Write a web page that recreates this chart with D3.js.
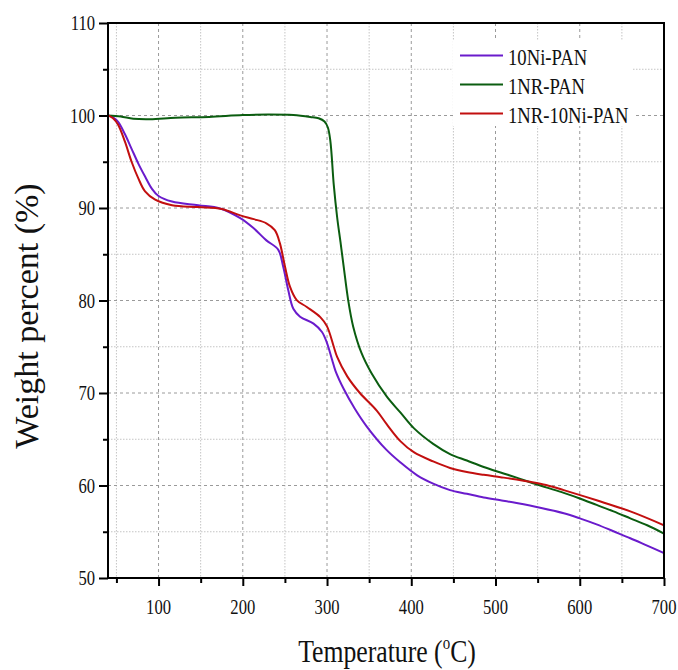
<!DOCTYPE html>
<html>
<head>
<meta charset="utf-8">
<script src="https://cdn.jsdelivr.net/npm/d3@7"></script>
<style>
  html, body { margin: 0; padding: 0; background: #fff; }
  svg { display: block; }
  text { font-family: "Liberation Serif", "Times New Roman", serif; fill: #111; }
</style>
</head>
<body>
<svg id="chart" width="678" height="670"></svg>
<script>
// ---------------- data ----------------
const seriesNames = ["10Ni-PAN", "1NR-PAN", "1NR-10Ni-PAN"];
const seriesColors = ["#6a1bcc", "#0b5d10", "#c20f0f"];

const temp10Ni = [40, 46, 52, 60, 68, 76, 84, 92, 100, 116, 147, 173, 197, 213, 228, 242, 248, 254, 260, 268, 284, 294, 300, 306, 310, 320, 333, 347, 370, 387, 407, 426, 446, 466, 486, 506, 525, 553, 581, 600, 620, 640, 660, 680, 700];
const weight10Ni = [100, 99.8, 99.3, 98.0, 96.4, 94.8, 93.4, 92.1, 91.3, 90.7, 90.3, 89.95, 88.9, 87.8, 86.5, 85.5, 83.65, 81.1, 79.1, 78.25, 77.5, 76.6, 75.4, 73.6, 72.4, 70.4, 68.3, 66.4, 63.9, 62.5, 61.1, 60.2, 59.5, 59.1, 58.7, 58.4, 58.1, 57.6, 57.0, 56.45, 55.8, 55.05, 54.3, 53.5, 52.7];

const tempNR = [40, 55, 70, 90, 120, 160, 200, 230, 260, 280, 290, 297, 301, 304, 308, 312, 316, 320, 325, 331, 341, 353, 371, 387, 403, 426, 446, 466, 486, 506, 525, 541, 560, 581, 600, 620, 640, 660, 680, 700];
const weightNR = [100, 99.9, 99.65, 99.6, 99.75, 99.85, 100.05, 100.1, 100.05, 99.85, 99.7, 99.35, 98.7, 97.2, 92.5, 89.0, 86.3, 83.5, 80.1, 77.2, 74.3, 72.1, 69.6, 67.9, 66.2, 64.5, 63.4, 62.7, 62.0, 61.4, 60.85, 60.35, 59.8, 59.2, 58.6, 57.9, 57.2, 56.45, 55.7, 54.8];

const tempNR10Ni = [40, 46, 52, 60, 68, 76, 84, 96, 116, 147, 175, 197, 213, 228, 238, 244, 250, 256, 264, 276, 292, 300, 308, 312, 324, 339, 359, 371, 387, 403, 426, 446, 466, 486, 506, 525, 541, 560, 581, 620, 660, 700];
const weightNR10Ni = [100, 99.7, 99.0, 97.2, 95.0, 93.2, 91.8, 90.9, 90.3, 90.1, 89.9, 89.2, 88.8, 88.35, 87.6, 86.2, 83.7, 81.5, 80.05, 79.3, 78.2, 77.2, 75.0, 73.9, 71.8, 70.0, 68.1, 66.6, 64.8, 63.6, 62.6, 61.9, 61.45, 61.15, 60.9, 60.65, 60.4, 60.05, 59.5, 58.4, 57.2, 55.7];

const xMajorTicks = [100, 200, 300, 400, 500, 600, 700];
const xMinorTicks = [50, 150, 250, 350, 450, 550, 650];
const yMajorTicks = [50, 60, 70, 80, 90, 100, 110];
const yMinorTicks = [55, 65, 75, 85, 95, 105];

const xLabel = "Temperature (";
const yLabel = "Weight percent (%)";

// ---------------- layout ----------------
const svg = d3.select("#chart");
const L = 108, T = 23, R = 664, B = 578;
const x = d3.scaleLinear().domain([40, 700]).range([L, R]);
const y = d3.scaleLinear().domain([50, 110]).range([B, T]);
const SX = 0.83; // horizontal condensation of the serif text

// grid
const grid = svg.append("g");
grid.selectAll(".vmin").data(xMinorTicks).join("line")
  .attr("x1", d => x(d)).attr("x2", d => x(d)).attr("y1", T).attr("y2", B)
  .attr("stroke", "#c4c4c4").attr("stroke-width", 1).attr("stroke-dasharray", "1.5,1.5");
grid.selectAll(".hmin").data(yMinorTicks).join("line")
  .attr("y1", d => y(d)).attr("y2", d => y(d)).attr("x1", L).attr("x2", R)
  .attr("stroke", "#c4c4c4").attr("stroke-width", 1).attr("stroke-dasharray", "1.5,1.5");
grid.selectAll(".vmaj").data(xMajorTicks.filter(d => d < 700)).join("line")
  .attr("x1", d => x(d)).attr("x2", d => x(d)).attr("y1", T).attr("y2", B)
  .attr("stroke", "#9a9a9a").attr("stroke-width", 1).attr("stroke-dasharray", "3,3");
grid.selectAll(".hmaj").data(yMajorTicks.filter(d => d > 50 && d < 110)).join("line")
  .attr("y1", d => y(d)).attr("y2", d => y(d)).attr("x1", L).attr("x2", R)
  .attr("stroke", "#9a9a9a").attr("stroke-width", 1).attr("stroke-dasharray", "3,3");

// legend background (covers grid)
svg.append("rect").attr("x", 453).attr("y", 40).attr("width", 180).attr("height", 86).attr("fill", "#fff");

// curves
svg.append("clipPath").attr("id", "clip").append("rect")
  .attr("x", L).attr("y", T).attr("width", R - L).attr("height", B - T);
const line = d3.line().x(d => x(d[0])).y(d => y(d[1])).curve(d3.curveCatmullRom.alpha(0.5));
const seriesData = [
  d3.zip(temp10Ni, weight10Ni),
  d3.zip(tempNR, weightNR),
  d3.zip(tempNR10Ni, weightNR10Ni)
];
const gLines = svg.append("g").attr("clip-path", "url(#clip)");
seriesData.forEach((s, i) => {
  gLines.append("path").datum(s).attr("d", line)
    .attr("fill", "none").attr("stroke", seriesColors[i]).attr("stroke-width", 2)
    .attr("stroke-linejoin", "round");
});

// axes frame
svg.append("rect").attr("x", L).attr("y", T).attr("width", R - L).attr("height", B - T)
  .attr("fill", "none").attr("stroke", "#000").attr("stroke-width", 2);

// y axis ticks & labels
const yAxis = d3.axisLeft(y).tickValues(yMajorTicks).tickSize(9).tickFormat("");
svg.append("g").attr("transform", `translate(${L},0)`).call(yAxis)
  .call(g => g.select(".domain").remove())
  .call(g => g.selectAll("line").attr("stroke", "#000").attr("stroke-width", 2));
const yAxisMinor = d3.axisLeft(y).tickValues(yMinorTicks).tickSize(5).tickFormat("");
svg.append("g").attr("transform", `translate(${L},0)`).call(yAxisMinor)
  .call(g => g.select(".domain").remove())
  .call(g => g.selectAll("line").attr("stroke", "#000").attr("stroke-width", 2));
svg.append("g").selectAll("text").data(yMajorTicks).join("text")
  .attr("transform", d => `translate(95,${y(d)}) scale(${SX},1)`)
  .attr("dy", "0.35em").attr("text-anchor", "end").attr("font-size", 20)
  .text(d => d);

// x axis ticks & labels
const xAxis = d3.axisBottom(x).tickValues(xMajorTicks).tickSize(8).tickFormat("");
svg.append("g").attr("transform", `translate(0,${B})`).call(xAxis)
  .call(g => g.select(".domain").remove())
  .call(g => g.selectAll("line").attr("stroke", "#000").attr("stroke-width", 2));
const xAxisMinor = d3.axisBottom(x).tickValues(xMinorTicks).tickSize(5).tickFormat("");
svg.append("g").attr("transform", `translate(0,${B})`).call(xAxisMinor)
  .call(g => g.select(".domain").remove())
  .call(g => g.selectAll("line").attr("stroke", "#000").attr("stroke-width", 2));
svg.append("g").selectAll("text").data(xMajorTicks).join("text")
  .attr("transform", d => `translate(${x(d)},613.5) scale(${SX},1)`)
  .attr("text-anchor", "middle").attr("font-size", 20)
  .text(d => d);

// axis titles
const xt = svg.append("text")
  .attr("transform", `translate(387,662) scale(${SX},1)`)
  .attr("text-anchor", "middle").attr("font-size", 31);
xt.append("tspan").text(xLabel);
xt.append("tspan").attr("font-size", 18).attr("dy", -13).text("o");
xt.append("tspan").attr("dy", 13).text("C)");

svg.append("text")
  .attr("transform", "translate(38,316) rotate(-90)")
  .attr("text-anchor", "middle").attr("font-size", 34)
  .text(yLabel);

// legend
const legY = [55.5, 84.5, 113.5];
seriesNames.forEach((n, i) => {
  svg.append("line").attr("x1", 460).attr("x2", 503).attr("y1", legY[i]).attr("y2", legY[i])
    .attr("stroke", seriesColors[i]).attr("stroke-width", 2);
  svg.append("text").attr("transform", `translate(508,${legY[i] + 9.5}) scale(${SX},1)`)
    .attr("font-size", 22.5).text(n);
});
</script>
</body>
</html>
